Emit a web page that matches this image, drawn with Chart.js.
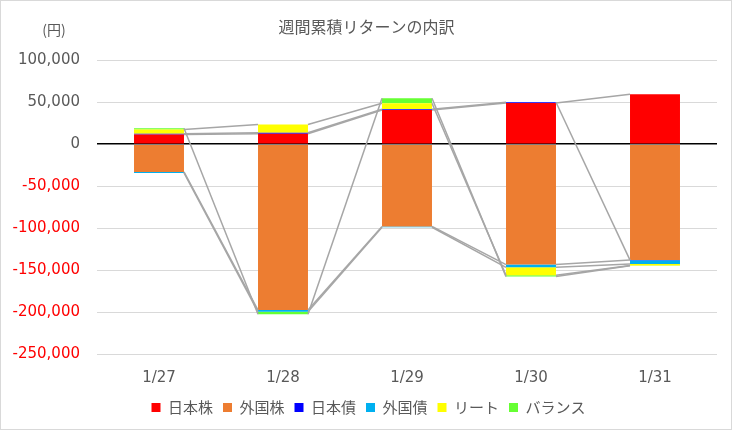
<!DOCTYPE html>
<html>
<head>
<meta charset="utf-8">
<script src="https://cdn.jsdelivr.net/npm/chart.js@4.4.0/dist/chart.umd.min.js"></script>
<style>
html,body{margin:0;padding:0;background:#fff;}
canvas{display:block;}
</style>
</head>
<body>
<canvas id="c" width="732" height="430"></canvas>
<script>
// ---- data ----
const categories = ['1/27', '1/28', '1/29', '1/30', '1/31'];
const jpStock  = [11600, 12300, 40700, 49100, 59400];
const fgStock  = [-33100, -197700, -98000, -143500, -137900];
const jpBond   = [900, 1200, 1000, 800, -300];
const fgBond   = [-1200, -2000, -1000, -3200, -4500];
const reit     = [4800, 10000, 7000, -9600, -1800];
const balance  = [1600, -3000, 6000, -1500, -400];
const seriesNames = ['日本株', '外国株', '日本債', '外国債', 'リート', 'バランス'];
const yTicks = [100000, 50000, 0, -50000, -100000, -150000, -200000, -250000];

const colors = ['#ff0000', '#ed7d31', '#0000ff', '#00b0f0', '#ffff00', '#66ff33'];
const seriesData = [jpStock, fgStock, jpBond, fgBond, reit, balance];

const JP = '"Noto Sans CJK JP", "DejaVu Sans", sans-serif';
const NUM = '"DejaVu Sans", sans-serif';

const seriesLines = {
  id: 'seriesLines',
  afterDatasetsDraw(chart) {
    const ctx = chart.ctx;
    ctx.save();
    ctx.strokeStyle = '#a6a6a6';
    ctx.lineWidth = 1.5;
    chart.data.datasets.forEach((ds, i) => {
      const meta = chart.getDatasetMeta(i);
      for (let j = 0; j < meta.data.length - 1; j++) {
        const a = meta.data[j], b = meta.data[j + 1];
        ctx.beginPath();
        ctx.moveTo(a.x + a.width / 2, a.y);
        ctx.lineTo(b.x - b.width / 2, b.y);
        ctx.stroke();
      }
    });
    ctx.restore();
  }
};

const shiftBoxes = {
  id: 'shiftBoxes',
  afterLayout(chart) {
    if (chart.legend) { chart.legend.left += 10; chart.legend.right += 10; }
    if (chart.titleBlock) { chart.titleBlock.left += 8; chart.titleBlock.right += 8; }
  }
};

const extras = {
  id: 'extras',
  afterDraw(chart) {
    const ctx = chart.ctx;
    ctx.save();
    ctx.fillStyle = '#595959';
    ctx.font = '14px ' + JP;
    ctx.textAlign = 'center';
    ctx.textBaseline = 'middle';
    ctx.fillText('(円)', 54, 30);
    ctx.strokeStyle = '#d9d9d9';
    ctx.lineWidth = 1;
    ctx.strokeRect(0.5, 0.5, chart.width - 1, chart.height - 1);
    ctx.restore();
  }
};

new Chart(document.getElementById('c'), {
  type: 'bar',
  data: {
    labels: categories,
    datasets: seriesData.map((d, i) => ({
      label: seriesNames[i],
      data: d,
      backgroundColor: colors[i],
      borderWidth: 0,
      categoryPercentage: 1.0,
      barPercentage: 0.403
    }))
  },
  options: {
    responsive: false,
    devicePixelRatio: 1,
    animation: false,
    layout: { padding: { left: 0, right: 15, top: 0, bottom: 5 } },
    plugins: {
      tooltip: { enabled: false },
      title: {
        display: true,
        text: '週間累積リターンの内訳',
        color: '#595959',
        font: { family: JP, size: 16, weight: 'normal' },
        padding: { top: 17, bottom: 24 }
      },
      legend: {
        position: 'bottom',
        labels: {
          color: '#595959',
          font: { family: JP, size: 15 },
          boxWidth: 9,
          boxHeight: 9,
          padding: 10
        }
      }
    },
    scales: {
      x: {
        stacked: true,
        grid: { display: false },
        border: { display: false },
        ticks: { color: '#595959', font: { family: NUM, size: 15 }, padding: 7 },
        afterFit(s) { s.height = 36; }
      },
      y: {
        stacked: true,
        min: -250000,
        max: 100000,
        afterBuildTicks(s) { s.ticks = yTicks.map(v => ({ value: v })); },
        grid: {
          color: c => (c.tick && c.tick.value === 0) ? '#000000' : '#d9d9d9',
          lineWidth: c => (c.tick && c.tick.value === 0) ? 1.5 : 1,
          drawTicks: false
        },
        border: { display: false },
        ticks: {
          color: c => c.tick.value < 0 ? '#ff0000' : '#595959',
          font: { family: NUM, size: 15 },
          padding: 17,
          callback: v => v.toLocaleString('en-US')
        },
        afterFit(s) { s.width = 97; }
      }
    }
  },
  plugins: [seriesLines, shiftBoxes, extras]
});
</script>
</body>
</html>
